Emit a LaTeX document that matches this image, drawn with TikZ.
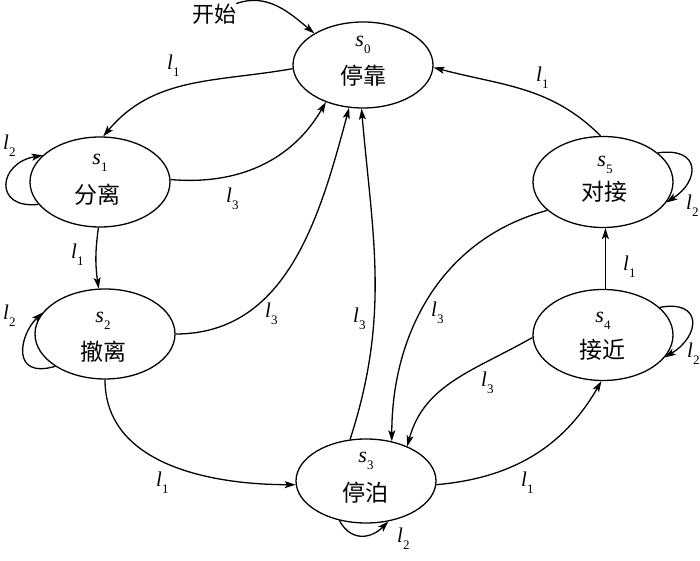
\documentclass[tikz,border=0pt]{standalone}
\usepackage{fontspec}
\setmainfont{Liberation Serif}
\newfontfamily\cjk{Noto Sans CJK SC}
\usetikzlibrary{arrows.meta,shapes.geometric}
\newcommand\lsub[2]{\textit{#1}\raisebox{-7pt}{\fontsize{13}{13}\selectfont #2}}
\begin{document}
\begin{tikzpicture}[x=1pt,y=1pt,
  st/.style={draw, ellipse, line width=1.3pt, minimum width=140pt, inner sep=0pt},
  arr/.style={line width=1.3pt, -{Stealth[length=11pt,width=7pt,inset=2.5pt]}},
  lab/.style={anchor=base west, inner sep=0pt, font=\fontsize{21}{21}\selectfont},
  stxt/.style={anchor=base, inner sep=0pt, font=\fontsize{22}{22}\selectfont},
  ctxt/.style={anchor=base, inner sep=0pt, font=\fontsize{23}{23}\selectfont\cjk}]
\useasboundingbox (0,0) rectangle (700,561);

% states
\node[st, minimum height=86pt] (s0) at (363,496) {};
\node[st, minimum height=90pt] (s1) at (100,379) {};
\node[st, minimum height=90pt] (s2) at (105,227) {};
\node[st, minimum height=84pt] (s3) at (366,80) {};
\node[st, minimum height=91pt] (s4) at (603,226) {};
\node[st, minimum height=91pt] (s5) at (603,379) {};

\node[stxt] (t0a) at (363,514) {\lsub{s}{0}};
\node[ctxt] (t0b) at (363,476) {停靠};
\node[stxt] (t1a) at (100,396) {\lsub{s}{1}};
\node[ctxt] (t1b) at (97,357) {分离};
\node[stxt] (t2a) at (103,238) {\lsub{s}{2}};
\node[ctxt] (t2b) at (103,200) {撤离};
\node[stxt] (t3a) at (366,98) {\lsub{s}{3}};
\node[ctxt] (t3b) at (365,59) {停泊};
\node[stxt] (t4a) at (603,238) {\lsub{s}{4}};
\node[ctxt] (t4b) at (602,202) {接近};
\node[stxt] (t5a) at (605,394) {\lsub{s}{5}};
\node[ctxt] (t5b) at (604,360) {对接};

\node[inner sep=0pt, font=\fontsize{22}{22}\selectfont\cjk] (start) at (214,547) {开始};

% connectors
\draw[arr] (start.north east) to[out=20,in=140] (s0.147);
\draw[arr] (s0.183) to[out=190,in=50] (s1.86);
\draw[arr] (s1.200) .. controls +(-45,-5) and +(-45,-8) .. (s1.155);
\draw[arr] (s1.2) to[out=-5,in=240] (s0.225);
\draw[arr] (s1.268) to[bend right=8] (s2.98);
\draw[arr] (s2.213) .. controls +(-45,-13) and +(-23,-22) .. (s2.161);
\draw[arr] (s2.0) to[out=0,in=255] (s0.252);
\draw[arr] (s2.270) to[out=270,in=180] (s3.183);
\draw[arr] (s3.111) to[out=72,in=275] (s0.268);
\draw[arr] (s3.357) to[out=5,in=240] (s4.268);
\draw[arr] (s4.87) -- (s5.273);
\draw[arr] (s4.26) .. controls +(43,8) and +(36,22) .. (s4.340);
\draw[arr] (s5.28) .. controls +(43,6) and +(34,22) .. (s5.342);
\draw[arr] (s5.93) to[out=135,in=345] (s0.358);
\draw[arr] (s5.207) to[out=195,in=90] (s3.57);
\draw[arr] (s4.182) to[out=210,in=75] (s3.40);
\draw[arr] (s3.236) .. controls +(12,-22) and +(-17,-17) .. (s3.299);

% labels
\node[lab] (L1) at (167,491) {\lsub{l}{1}};
\node[lab] (L2) at (3,411) {\lsub{l}{2}};
\node[lab] (L3) at (226,358) {\lsub{l}{3}};
\node[lab] (L4) at (71,302) {\lsub{l}{1}};
\node[lab] (L5) at (3,241) {\lsub{l}{2}};
\node[lab] (L6) at (265,243) {\lsub{l}{3}};
\node[lab] (L7) at (353,238) {\lsub{l}{3}};
\node[lab] (L8) at (431,244) {\lsub{l}{3}};
\node[lab] (L9) at (481,174) {\lsub{l}{3}};
\node[lab] (L10) at (536,479) {\lsub{l}{1}};
\node[lab] (L11) at (623,290) {\lsub{l}{1}};
\node[lab] (L12) at (687,203) {\lsub{l}{2}};
\node[lab] (L13) at (686,351) {\lsub{l}{2}};
\node[lab] (L14) at (397,18) {\lsub{l}{2}};
\node[lab] (L15) at (156,74) {\lsub{l}{1}};
\node[lab] (L16) at (521,74) {\lsub{l}{1}};
\end{tikzpicture}
\end{document}
